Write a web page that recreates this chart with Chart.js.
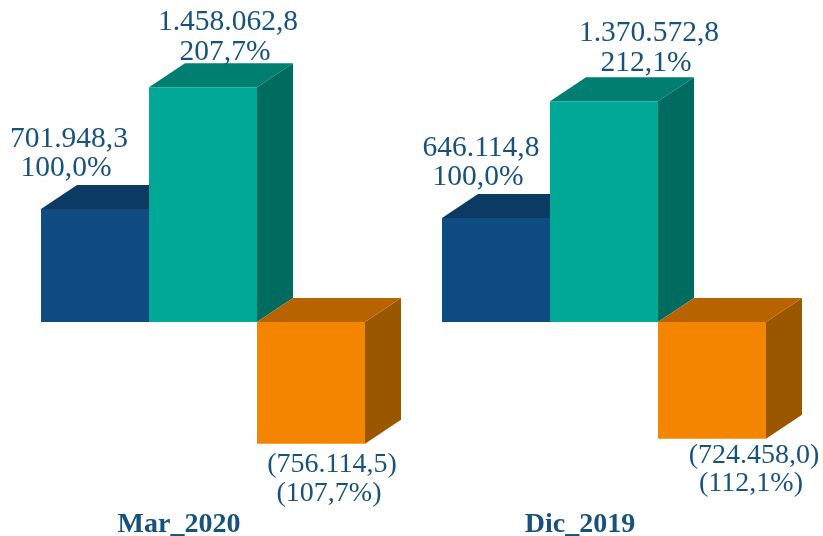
<!DOCTYPE html>
<html><head><meta charset="utf-8">
<style>html,body{margin:0;padding:0;background:#fff}canvas{display:block}</style>
<script src="https://cdn.jsdelivr.net/npm/chart.js@4"></script>
</head><body><canvas id="c" width="823" height="536"></canvas>
<script>
const categories = ['Mar_2020', 'Dic_2019'];
const blueValues = [701948.3, 646114.8];
const tealValues = [1458062.8, 1370572.8];
const orangeValues = [-756114.5, -724458.0];
const bluePercents = [100.0, 100.0];
const tealPercents = [207.7, 212.1];
const orangePercents = [-107.7, -112.1];

const FRONT = ['#0F4C81', '#00A896', '#F48500'];
const TOP = ['#0B3A63', '#007F71', '#B76400'];
const SIDE = ['#0A3559', '#006B5F', '#9B5600'];
const TEXT = '#17527F';
const DEPTH_X = 36, DEPTH_Y = 24;
// label placement relative to each bar: [dx, dy of first line]
const LABEL_DX = [[-26, -15], [25, 45], [21, 42]];
const LABEL_DY = [[-70, -70], [-65, -68], [21, 17]];

function fmt(v, dec) {
  const s = Math.abs(v).toFixed(dec).split('.');
  return s[0].replace(/\B(?=(\d{3})+$)/g, '.') + ',' + s[1];
}
function poly(ctx, pts, color) {
  ctx.fillStyle = color;
  ctx.beginPath();
  pts.forEach((p, i) => i ? ctx.lineTo(p[0], p[1]) : ctx.moveTo(p[0], p[1]));
  ctx.closePath();
  ctx.fill();
}
const cube = {
  id: 'cube',
  beforeDatasetsDraw(chart) {
    const ctx = chart.ctx;
    chart.data.datasets.forEach((ds, d) => {
      chart.getDatasetMeta(d).data.forEach(el => {
        const p = el.getProps(['x', 'y', 'base', 'width'], true);
        const l = p.x - p.width / 2, r = p.x + p.width / 2;
        const t = Math.min(p.y, p.base), b = Math.max(p.y, p.base);
        poly(ctx, [[r, t], [r + DEPTH_X, t - DEPTH_Y], [r + DEPTH_X, b - DEPTH_Y], [r, b]], SIDE[d]);
        poly(ctx, [[l, t], [l + DEPTH_X, t - DEPTH_Y], [r + DEPTH_X, t - DEPTH_Y], [r, t]], TOP[d]);
      });
    });
  },
  afterDatasetsDraw(chart) {
    const ctx = chart.ctx;
    ctx.save();
    ctx.fillStyle = TEXT;
    ctx.textAlign = 'center';
    ctx.textBaseline = 'middle';
    chart.data.datasets.forEach((ds, d) => {
      chart.getDatasetMeta(d).data.forEach((el, i) => {
        const p = el.getProps(['x', 'y'], true);
        const neg = ds.data[i] < 0;
        ctx.font = (neg ? 28 : 29.5) + 'px "Liberation Serif"';
        const a = fmt(ds.data[i], 1), b = fmt(ds.percents[i], 1) + '%';
        const x = p.x + LABEL_DX[d][i], y = p.y + LABEL_DY[d][i];
        ctx.fillText(neg ? '(' + a + ')' : a, x, y);
        ctx.fillText(neg ? '(' + b + ')' : b, x - 3, y + (neg ? 28.5 : 29.5));
      });
    });
    ctx.restore();
  }
};
new Chart(document.getElementById('c'), {
  type: 'bar',
  data: {
    labels: categories,
    datasets: [
      { label: 'A', data: blueValues, percents: bluePercents, backgroundColor: FRONT[0] },
      { label: 'B', data: tealValues, percents: tealPercents, backgroundColor: FRONT[1] },
      { label: 'C', data: orangeValues, percents: orangePercents, backgroundColor: FRONT[2] }
    ]
  },
  options: {
    responsive: false,
    animation: false,
    layout: { padding: { left: 2.5, right: 18.5, top: 0, bottom: 0 } },
    datasets: { bar: { barPercentage: 1, categoryPercentage: 0.808, borderWidth: 0 } },
    plugins: { legend: { display: false }, tooltip: { enabled: false } },
    scales: {
      x: {
        grid: { display: false, drawTicks: false },
        border: { display: false },
        afterFit(s) { s.height = 53; },
        ticks: { color: TEXT, padding: 25, labelOffset: -24, maxRotation: 0,
                 font: { family: '"Liberation Serif"', size: 28, weight: 'bold' } }
      },
      y: { display: false, min: -1000000, max: 2000000 }
    }
  },
  plugins: [cube]
});
</script></body></html>
